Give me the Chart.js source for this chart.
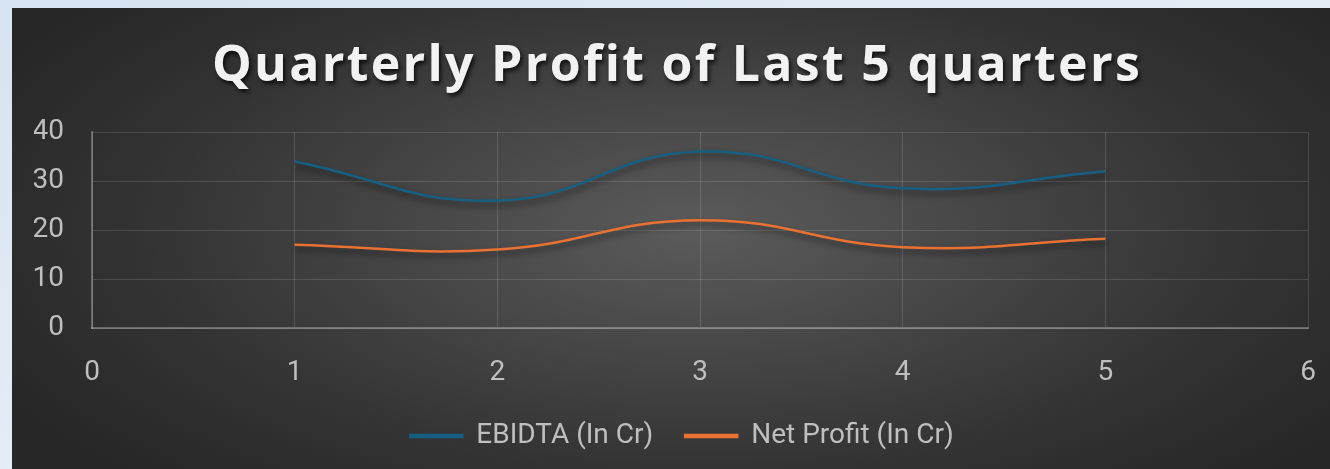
<!DOCTYPE html>
<html>
<head>
<meta charset="utf-8">
<script src="https://cdn.jsdelivr.net/npm/chart.js@4.4.1/dist/chart.umd.min.js"></script>
<style>
  html, body {
    margin: 0;
    padding: 0;
    width: 1330px;
    height: 469px;
    overflow: hidden;
    background: linear-gradient(160deg, #d6e3f0 0%, #e3edf6 50%, #d3e1ee 100%);
  }
  #panel {
    position: absolute;
    left: 12px;
    top: 8px;
    width: 1318px;
    height: 461px;
    background: radial-gradient(ellipse 60% 75% at 52% 48%, #5b5b5b 0%, #474747 35%, #333333 70%, #272727 100%);
  }
  #title {
    position: absolute;
    left: 0;
    top: 24px;
    width: 1330px;
    text-align: center;
    font-family: "Open Sans", sans-serif;
    font-weight: 700;
    font-size: 50px;
    line-height: 60px;
    letter-spacing: 2.3px;
    color: #f2f2f2;
    text-shadow: 2px 3px 4px rgba(0, 0, 0, 0.75);
  }
  #chartWrap {
    position: absolute;
    left: 0;
    top: 0;
    width: 1318px;
    height: 461px;
  }
</style>
</head>
<body>
<div id="panel">
  <div id="chartWrap"><canvas id="profitChart"></canvas></div>
  <div id="title">Quarterly Profit of Last 5 quarters</div>
</div>
<script>
  var quarters = [1, 2, 3, 4, 5];
  var ebidta = [34, 26, 36, 28.5, 32];
  var netProfit = [17, 16, 22, 16.5, 18.2];
  var seriesNames = ["EBIDTA (In Cr)", "Net Profit (In Cr)"];

  var tickColor = "#bfbfbf";
  var gridColor = "rgba(255,255,255,0.13)";
  var labelFont = { family: "Roboto", size: 28 };

  function toPoints(values) {
    return quarters.map(function (q, i) {
      return { x: q, y: values[i] };
    });
  }

  // soft drop shadow under the lines, like the Excel effect
  var lineShadow = {
    id: "lineShadow",
    beforeDatasetsDraw: function (chart) {
      var ctx = chart.ctx;
      ctx.save();
      ctx.shadowColor = "rgba(0,0,0,0.55)";
      ctx.shadowBlur = 6;
      ctx.shadowOffsetX = 1;
      ctx.shadowOffsetY = 4;
    },
    afterDatasetsDraw: function (chart) {
      chart.ctx.restore();
    },
  };

  var chartDiv = document.getElementById("profitChart");

  new Chart(chartDiv, {
    type: "line",
    data: {
      datasets: [
        {
          label: seriesNames[0],
          data: toPoints(ebidta),
          borderColor: "#156082",
          backgroundColor: "#156082",
          borderWidth: 2.5,
          pointRadius: 0,
          tension: 0.45,
        },
        {
          label: seriesNames[1],
          data: toPoints(netProfit),
          borderColor: "#e97132",
          backgroundColor: "#e97132",
          borderWidth: 2.5,
          pointRadius: 0,
          tension: 0.45,
        },
      ],
    },
    options: {
      responsive: true,
      maintainAspectRatio: false,
      animation: false,
      layout: {
        padding: { top: 124, left: 22, right: 0, bottom: 9 },
      },
      plugins: {
        legend: {
          position: "bottom",
          labels: {
            color: tickColor,
            font: labelFont,
            boxWidth: 52,
            boxHeight: 2,
            padding: 32,
          },
        },
        tooltip: { enabled: false },
      },
      scales: {
        x: {
          type: "linear",
          min: 0,
          max: 6,
          ticks: {
            stepSize: 1,
            color: tickColor,
            font: labelFont,
            padding: 28,
          },
          grid: { color: gridColor, drawTicks: false },
          border: { color: "rgba(255,255,255,0.28)", width: 2 },
          afterFit: function (scale) {
            scale.height = 62;
            scale.paddingRight = 22;
          },
        },
        y: {
          min: 0,
          max: 40,
          ticks: {
            stepSize: 10,
            color: tickColor,
            font: labelFont,
            padding: 28,
          },
          grid: { color: gridColor, drawTicks: false },
          border: { color: "rgba(255,255,255,0.28)", width: 2 },
          afterFit: function (scale) {
            scale.width = 58;
          },
        },
      },
    },
    plugins: [lineShadow],
  });
</script>
</body>
</html>
